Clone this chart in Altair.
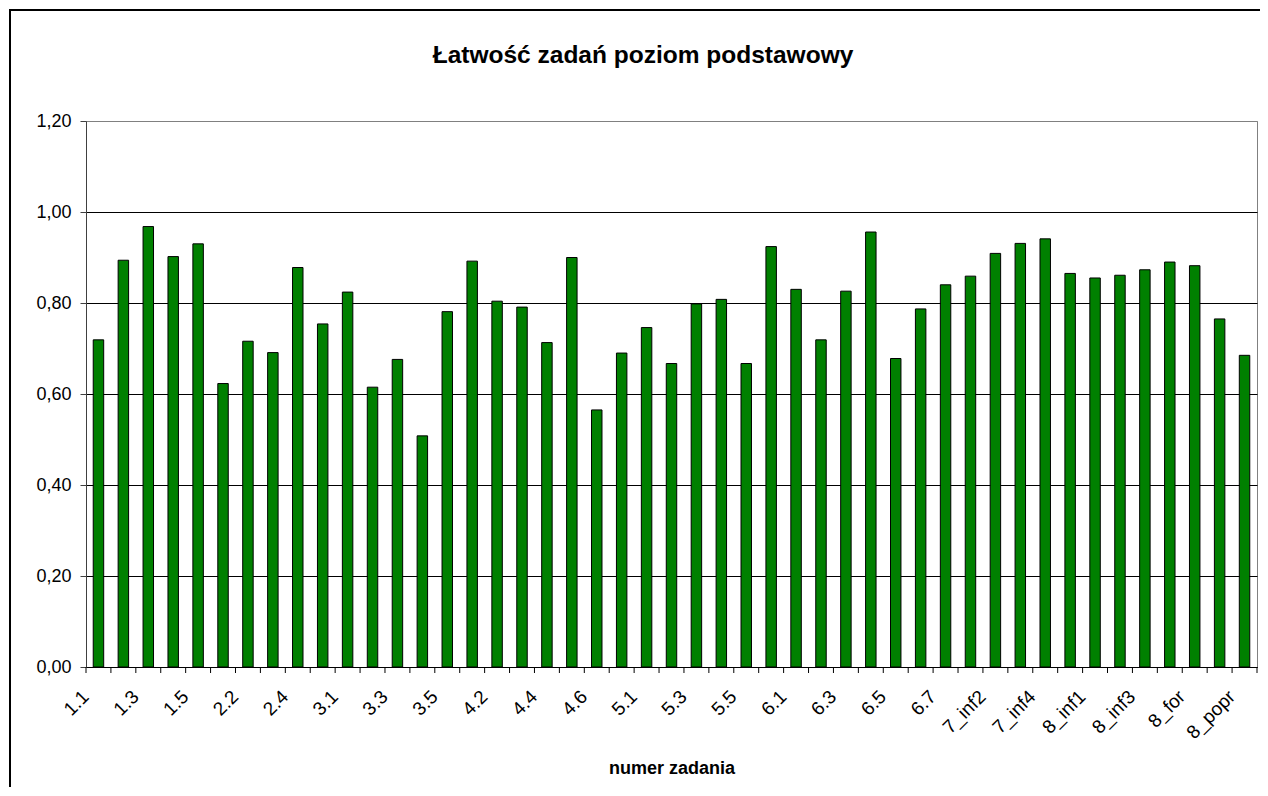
import altair as alt
import pandas as pd

tasks = ["1.1", "1.2", "1.3", "1.4", "1.5", "2.1", "2.2", "2.3", "2.4", "2.5",
         "3.1", "3.2", "3.3", "3.4", "3.5", "4.1", "4.2", "4.3", "4.4", "4.5",
         "4.6", "4.7", "5.1", "5.2", "5.3", "5.4", "5.5", "5.6", "6.1", "6.2",
         "6.3", "6.4", "6.5", "6.6", "6.7", "7_inf1", "7_inf2", "7_inf3", "7_inf4",
         "7_inf5", "8_inf1", "8_inf2", "8_inf3", "8_inf4", "8_for", "8_styl", "8_popr"]
values = [0.719, 0.894, 0.968, 0.902, 0.930, 0.623, 0.716, 0.691, 0.878, 0.754,
          0.824, 0.615, 0.676, 0.508, 0.781, 0.892, 0.804, 0.791, 0.713, 0.900,
          0.565, 0.690, 0.746, 0.667, 0.798, 0.808, 0.667, 0.924, 0.830, 0.719,
          0.826, 0.956, 0.678, 0.787, 0.840, 0.859, 0.909, 0.931, 0.941, 0.865,
          0.855, 0.861, 0.873, 0.890, 0.882, 0.765, 0.685]
shown_labels = tasks[::2]
y_ticks = [0.0, 0.2, 0.4, 0.6, 0.8, 1.0, 1.2]

title_text = "Łatwość zadań poziom podstawowy"
x_title = "numer zadania"

df = pd.DataFrame({"task": tasks, "value": values})

W, H = 1171, 546
FONT = "Liberation Sans"

xscale = alt.Scale(domain=tasks, paddingInner=0, paddingOuter=0)
x_axis = alt.Axis(values=shown_labels, ticks=False, labelAngle=-45,
                  labelFontSize=19, labelFont=FONT, labelColor="black",
                  labelOffset=-19, labelPadding=20,
                  domainColor="black", title=x_title, titleFont=FONT,
                  titleFontSize=18, titleFontWeight="bold", titleColor="black",
                  titleY=106, titleBaseline="alphabetic")

bars = alt.Chart(df).mark_bar(
    width=alt.RelativeBandSize(0.42), color="#008000", stroke="black", strokeWidth=1
).encode(
    x=alt.X("task:N", sort=tasks, scale=xscale, axis=x_axis),
    y=alt.Y("value:Q", scale=alt.Scale(domain=[0, 1.2], nice=False),
            axis=alt.Axis(values=y_ticks, title=None,
                          labelExpr="replace(format(datum.value, '.2f'), '.', ',')",
                          labelFontSize=18, labelFont=FONT, labelColor="black",
                          labelPadding=9, tickSize=6, tickColor="#404040",
                          domainColor="#404040", grid=True,
                          gridColor={"condition": {"test": "datum.value === 1.2", "value": "#808080"},
                                     "value": "black"})),
)

ticks = alt.Chart(df).mark_rule(color="black").encode(
    x=alt.X("task:N", sort=tasks, scale=xscale, bandPosition=0, axis=x_axis),
    y=alt.value(H), y2=alt.value(H + 6),
)
last_tick = alt.Chart(df).transform_filter(
    alt.datum.task == tasks[-1]
).mark_rule(color="black").encode(
    x=alt.X("task:N", sort=tasks, scale=xscale, bandPosition=1, axis=x_axis),
    y=alt.value(H), y2=alt.value(H + 6),
)

title = alt.Chart(pd.DataFrame({"t": [title_text]})).mark_text(
    font=FONT, fontSize=24.5, fontWeight="bold", color="black", baseline="alphabetic", align="center"
).encode(text="t:N", x=alt.value(557), y=alt.value(-58))

frame_left = alt.Chart(pd.DataFrame({"a": [0]})).mark_rule(
    color="black", strokeWidth=2, clip=False
).encode(x=alt.value(-76), y=alt.value(-111), y2=alt.value(H + 300))
frame_top = alt.Chart(pd.DataFrame({"a": [0]})).mark_rule(
    color="black", strokeWidth=2, clip=False
).encode(x=alt.value(-77), x2=alt.value(W + 60), y=alt.value(-111))

chart = alt.layer(bars, ticks, last_tick, title, frame_left, frame_top).properties(
    width=W, height=H,
    autosize=alt.AutoSizeParams(type="none"),
    padding={"left": 78, "top": 113, "right": 3, "bottom": 120},
    background="white",
).configure_view(stroke="#808080", strokeWidth=1)

chart.save("out.html", embed_options={"renderer": "svg", "actions": False})
